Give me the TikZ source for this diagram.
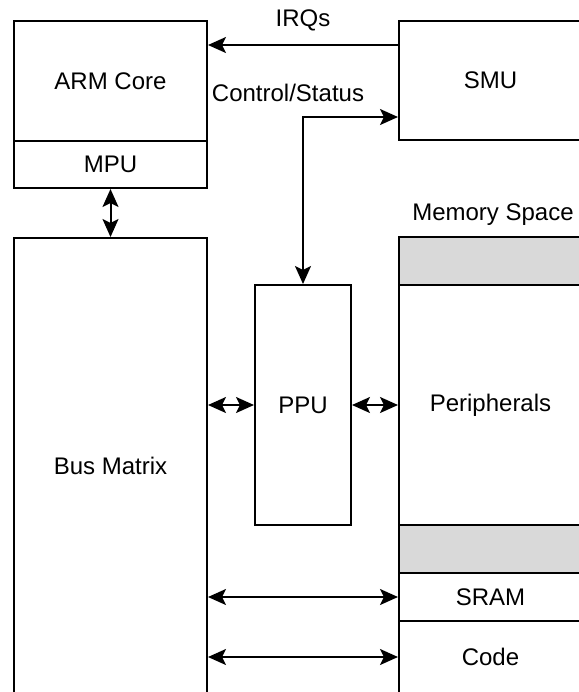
\documentclass[tikz,border=0pt]{standalone}
\usepackage{fontspec}
\setmainfont{Liberation Sans}
\usetikzlibrary{fit,arrows.meta}

\begin{document}
\begin{tikzpicture}[x=0.5pt,y=-0.5pt,line width=1pt,
    font=\fontsize{12}{14}\selectfont,
    box/.style={draw,inner sep=0pt},
    shaded/.style={box,fill=black!15},
    tip/.style={Stealth[length=9pt,width=8pt,inset=2pt]},
    arr/.style={-{Stealth[length=9pt,width=8pt,inset=2pt]}},
    darr/.style={{Stealth[length=9pt,width=8pt,inset=2pt]}-{Stealth[length=9pt,width=8pt,inset=2pt]}}]

  \useasboundingbox (0,0) rectangle (579,692);
  \clip (0,0) rectangle (579,692);

  % ========== Core side ==========
  \node[box,fit={(14,21) (207,141)},label=center:ARM Core] (arm) {};
  \node[box,fit={(14,141) (207,188)},label=center:MPU] (mpu) {};
  \node[box,fit={(14,238) (207,694)},label=center:Bus Matrix] (bus) {};
  \draw[darr] (mpu.south) -- (bus.north);

  % ========== SMU ==========
  \node[box,fit={(399,21) (582,140)},label=center:SMU] (smu) {};
  \coordinate (irq) at (0,45);
  \draw[arr] (irq -| smu.west) -- (irq -| arm.east);
  \node (irqlbl) at (303,20) {IRQs};

  % ========== PPU ==========
  \node[box,fit={(255,285) (351,525)},label=center:PPU] (ppu) {};
  \coordinate (ctl) at (0,117);
  \draw[darr] (ppu.north) -- (ppu.north |- ctl) -- (ctl -| smu.west);
  \node (ctllbl) at (288,93) {Control/Status};

  % ========== Memory Space ==========
  \node (memlbl) at (493,215) {Memory Space};
  \node[shaded,fit={(399,237) (582,285)}] (gapa) {};
  \node[box,fit={(399,285) (582,525)},label=center:Peripherals] (periph) {};
  \node[shaded,fit={(399,525) (582,573)}] (gapb) {};
  \node[box,fit={(399,573) (582,621)},label=center:SRAM] (sram) {};
  \node[box,fit={(399,621) (582,693)},label=center:Code] (code) {};

  % ========== Buses ==========
  \draw[darr] (ppu.west -| bus.east) -- (ppu.west);
  \draw[darr] (ppu.east) -- (ppu.east -| periph.west);
  \draw[darr] (sram.west -| bus.east) -- (sram.west);
  \draw[darr] (code.west -| bus.east) -- (code.west);

\end{tikzpicture}
\end{document}
